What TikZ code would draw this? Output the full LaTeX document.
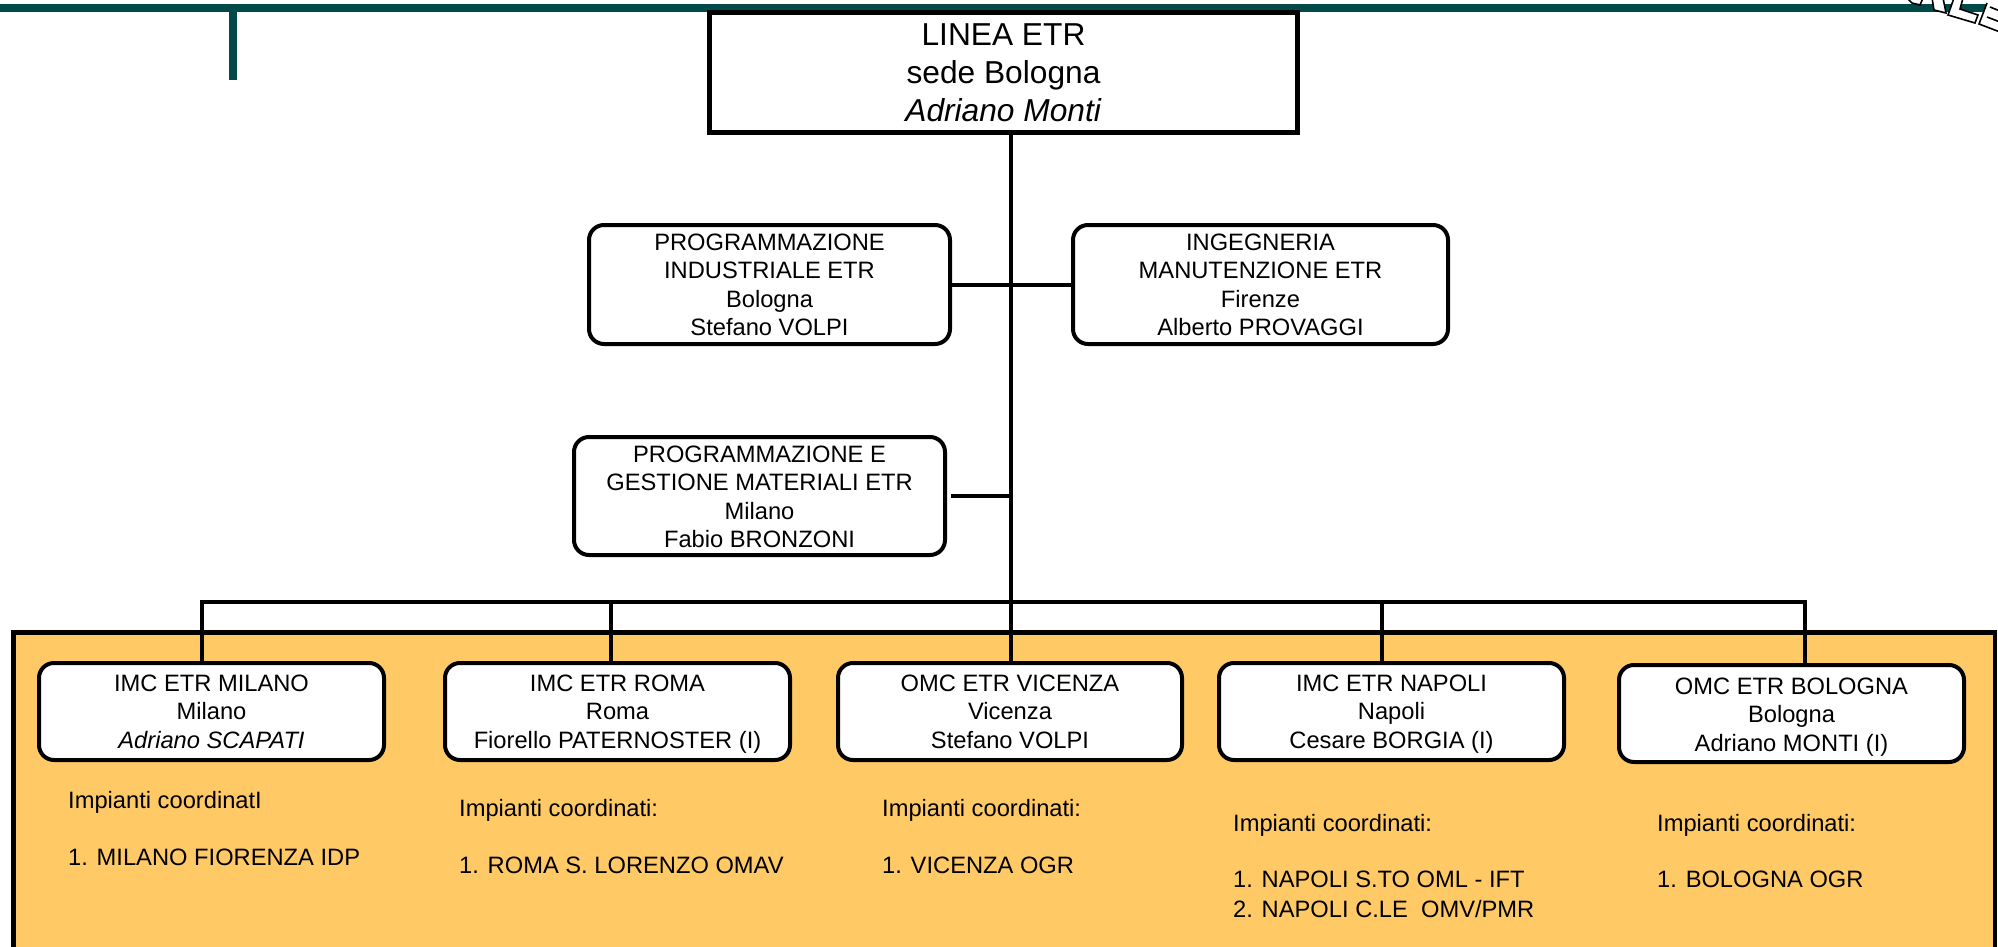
\documentclass[tikz,border=0pt]{standalone}
\usepackage{fontspec}
\setmainfont{Liberation Sans}
\definecolor{barteal}{HTML}{024A4A}
\definecolor{panelgold}{HTML}{FFCA66}
\newcommand{\boxlines}[3]{\rule{0pt}{#1pt}#3\rule[-#2pt]{0pt}{#2pt}}
\tikzset{
  x=1pt,y=-1pt,
  conn/.style={draw=black,line width=4pt,line cap=butt},
  basebox/.style={draw=black,fill=white,inner sep=0pt,outer sep=0pt,align=center,
     font=\fontsize{23.7}{28.5}\selectfont},
  unitbox/.style={basebox,rounded corners=15pt,line width=4pt},
  topbox/.style={basebox,line width=5pt,font=\fontsize{31.7}{38}\selectfont},
  note/.style={anchor=base west,inner sep=0pt,font=\fontsize{23.7}{28.5}\selectfont},
  logoletter/.style={draw=black,fill=white,line width=1.6pt,line join=miter},
}
\begin{document}
\begin{tikzpicture}
\useasboundingbox (0,0) rectangle (1998,947);
% header
\fill[barteal] (0,4) rectangle (1998,12);
\fill[barteal] (229,12) rectangle (237,80);
% logo fragment
\draw[logoletter] (1907,-2) -- (1912,3) -- (1920,5) -- (1923,-2);
\draw[logoletter] (1932,-2) -- (1934,10) -- (1946,13) -- (1943,-2);
\draw[logoletter] (1954,-2) -- (1948,15) -- (1975,23) -- (1978,15) -- (1960,9) -- (1963,-2);
\draw[logoletter] (1987,3) -- (1979,24) -- (2000,32) -- (2000,3);
\draw[draw=black,line width=1.6pt] (1987,17) -- (2000,22);
\draw[draw=black,line width=1.6pt] (1990,7) -- (2000,11);
% panel
\draw[fill=panelgold,draw=black,line width=4.5pt] (13.5,632.5) rectangle (1995,960);
% boxes
\node[topbox,minimum width=588pt,minimum height=120pt] (top) at (1003.5,72.5)
  {\boxlines{33.5}{10.5}{LINEA ETR\\sede Bologna\\\textit{Adriano Monti}}};
\node[unitbox,minimum width=361pt,minimum height=119pt] (prog) at (769.5,284.5)
  {\boxlines{25}{8}{PROGRAMMAZIONE\\INDUSTRIALE ETR\\Bologna\\Stefano VOLPI}};
\node[unitbox,minimum width=375pt,minimum height=119pt] (ing) at (1260.5,284.5)
  {\boxlines{25}{8}{INGEGNERIA\\MANUTENZIONE ETR\\Firenze\\Alberto PROVAGGI}};
\node[unitbox,minimum width=371pt,minimum height=118pt] (mat) at (759.5,496)
  {\boxlines{25}{7.5}{PROGRAMMAZIONE E\\GESTIONE MATERIALI ETR\\Milano\\Fabio BRONZONI}};
\node[unitbox,minimum width=345pt,minimum height=97pt] (mi) at (211.5,711.5)
  {\boxlines{28}{12}{IMC ETR MILANO\\Milano\\\textit{Adriano SCAPATI}}};
\node[unitbox,minimum width=345pt,minimum height=97pt] (rm) at (617.5,711.5)
  {\boxlines{28}{12}{IMC ETR ROMA\\Roma\\Fiorello PATERNOSTER (I)}};
\node[unitbox,minimum width=344pt,minimum height=97pt] (vi) at (1010,711.5)
  {\boxlines{28}{12}{OMC ETR VICENZA\\Vicenza\\Stefano VOLPI}};
\node[unitbox,minimum width=345pt,minimum height=97pt] (na) at (1391.5,711.5)
  {\boxlines{28}{12}{IMC ETR NAPOLI\\Napoli\\Cesare BORGIA (I)}};
\node[unitbox,minimum width=345pt,minimum height=97pt] (bo) at (1791.5,713.5)
  {\boxlines{29}{11}{OMC ETR BOLOGNA\\Bologna\\Adriano MONTI (I)}};
% bus junctions
\coordinate (jmi) at (202,602);
\coordinate (jrm) at (611,602);
\coordinate (jvi) at (1011,602);
\coordinate (jna) at (1382,602);
\coordinate (jbo) at (1805,602);
\coordinate (matend) at (951,496);
% connectors
\draw[conn] (top.south -| jvi) -- (vi.north -| jvi);
\draw[conn] (prog.east) -- (ing.west);
\draw[conn] (matend) -- (matend -| jvi);
\draw[conn,line join=miter] (mi.north -| jmi) -- (jmi) -- (jbo) -- (bo.north -| jbo);
\draw[conn] (jrm) -- (rm.north -| jrm);
\draw[conn] (jna) -- (na.north -| jna);
% notes
\node[note] (nmi1) at (68,808) {Impianti coordinatI};
\node[note] (nmi2) at (68,865) {1. MILANO FIORENZA IDP};
\node[note] (nrm1) at (459,816) {Impianti coordinati:};
\node[note] (nrm2) at (459,873) {1. ROMA S. LORENZO OMAV};
\node[note] (nvi1) at (882,816) {Impianti coordinati:};
\node[note] (nvi2) at (882,873) {1. VICENZA OGR};
\node[note] (nna1) at (1233,831) {Impianti coordinati:};
\node[note] (nna2) at (1233,887) {1. NAPOLI S.TO OML - IFT};
\node[note] (nna3) at (1233,917) {2. NAPOLI C.LE\ \ OMV/PMR};
\node[note] (nbo1) at (1657,831) {Impianti coordinati:};
\node[note] (nbo2) at (1657,887) {1. BOLOGNA OGR};
\end{tikzpicture}
\end{document}
